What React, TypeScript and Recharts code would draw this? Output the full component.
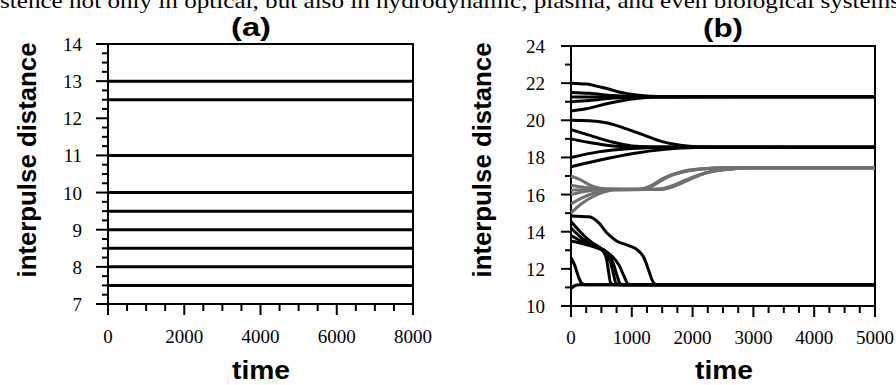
import { LineChart, Line, XAxis, YAxis, ReferenceArea } from 'recharts';

// panel (a): flat interpulse distances
const aLevels = [13, 12.5, 11, 10, 9.5, 9, 8.5, 8, 7.5];
const aTimes = [0, 8000];
const aYMajor = [7, 8, 9, 10, 11, 12, 13, 14];
const aXMajor = [0, 2000, 4000, 6000, 8000];

// panel (b): [time, distance] per trajectory
const topGroup = [
  [[0, 22], [250, 21.95], [500, 21.78], [900, 21.45], [1300, 21.3], [1800, 21.27], [5000, 21.27]],
  [[0, 21.5], [300, 21.45], [700, 21.33], [1100, 21.28], [5000, 21.27]],
  [[0, 21.25], [5000, 21.27]],
  [[0, 21.0], [300, 21.06], [700, 21.2], [1100, 21.26], [5000, 21.27]],
  [[0, 20.5], [250, 20.62], [600, 20.9], [1000, 21.15], [1400, 21.25], [1800, 21.27], [5000, 21.27]],
];
const midGroup = [
  [[0, 20], [300, 19.98], [600, 19.85], [900, 19.55], [1200, 19.2], [1500, 18.85], [1800, 18.65], [2100, 18.57], [2500, 18.55], [5000, 18.55]],
  [[0, 19.5], [300, 19.2], [650, 18.85], [1000, 18.62], [1400, 18.56], [5000, 18.55]],
  [[0, 19.0], [300, 18.8], [750, 18.6], [1100, 18.56], [5000, 18.55]],
  [[0, 18.0], [450, 18.3], [1000, 18.48], [1500, 18.54], [5000, 18.55]],
  [[0, 17.5], [480, 17.86], [1000, 18.2], [1550, 18.44], [2050, 18.54], [2500, 18.55], [5000, 18.55]],
];
const grayGroup = [
  [[0, 17.0], [150, 16.8], [350, 16.45], [600, 16.3], [1100, 16.28], [1300, 16.45], [1500, 16.85], [1800, 17.22], [2100, 17.38], [2600, 17.44], [5000, 17.45]],
  [[0, 16.5], [300, 16.35], [600, 16.28], [1150, 16.28], [1350, 16.5], [1600, 16.95], [1900, 17.25], [2300, 17.4], [2800, 17.45], [5000, 17.45]],
  [[0, 16.25], [1500, 16.28], [1700, 16.45], [1950, 16.8], [2200, 17.15], [2550, 17.35], [3000, 17.44], [5000, 17.45]],
  [[0, 16.0], [300, 16.2], [600, 16.28], [1450, 16.28], [1700, 16.5], [1950, 16.85], [2250, 17.2], [2600, 17.37], [3000, 17.44], [5000, 17.45]],
  [[0, 15.5], [200, 15.85], [450, 16.15], [700, 16.27], [1150, 16.28], [1350, 16.5], [1550, 16.9], [1850, 17.25], [2150, 17.38], [2600, 17.44], [5000, 17.45]],
  [[0, 15.0], [150, 15.45], [400, 15.95], [700, 16.25], [1400, 16.28], [1650, 16.45], [1900, 16.8], [2200, 17.15], [2550, 17.35], [3000, 17.44], [5000, 17.45]],
];
const lowGroup = [
  [[0, 14.85], [300, 14.8], [450, 14.5], [600, 13.9], [750, 13.5], [950, 13.25], [1100, 13.0], [1200, 12.6], [1280, 11.9], [1340, 11.35], [1400, 11.15], [5000, 11.15]],
  [[0, 14.55], [150, 14.0], [350, 13.4], [500, 13.05], [580, 12.6], [620, 11.8], [650, 11.25], [700, 11.15], [5000, 11.15]],
  [[0, 14.2], [200, 13.6], [400, 13.25], [560, 12.9], [650, 12.35], [700, 11.7], [740, 11.22], [790, 11.15], [5000, 11.15]],
  [[0, 13.8], [200, 13.45], [420, 13.2], [600, 12.85], [700, 12.25], [760, 11.6], [810, 11.2], [860, 11.15], [5000, 11.15]],
  [[0, 13.5], [200, 13.35], [450, 13.1], [650, 12.75], [790, 12.2], [880, 11.55], [940, 11.18], [1000, 11.15], [5000, 11.15]],
  [[0, 12.6], [60, 12.2], [120, 11.6], [170, 11.25], [230, 11.15], [5000, 11.15]],
  [[0, 10.95], [80, 11.12], [150, 11.15], [5000, 11.15]],
];
const bYMajor = [10, 12, 14, 16, 18, 20, 22, 24];
const bXMajor = [0, 1000, 2000, 3000, 4000, 5000];

const serif = 'Liberation Serif, Times New Roman, serif';
const sans = 'Liberation Sans, Arial, sans-serif';

// minor ticks between the majors
const withMinor = (majors: number[], parts: number) => {
  const out: number[] = [];
  for (let i = 0; i < majors.length - 1; i++) {
    const step = (majors[i + 1] - majors[i]) / parts;
    for (let k = 0; k < parts; k++) out.push(majors[i] + k * step);
  }
  out.push(majors[majors.length - 1]);
  return out;
};

const makeYTick = (majors: number[], majorLen: number, minorLen: number) => (props: any) => {
  const { x, y, payload } = props;
  const major = majors.includes(payload.value);
  return (
    <g>
      <line x1={x - (major ? majorLen : minorLen)} x2={x} y1={y} y2={y} stroke="#000" strokeWidth={2} />
      {major && (
        <text x={x - 26} y={y + 7} textAnchor="end" fontFamily={serif} fontSize={19} fill="#000">
          {payload.value}
        </text>
      )}
    </g>
  );
};

const makeXTick = (majors: number[], labelDy: number) => (props: any) => {
  const { x, y, payload } = props;
  const major = majors.includes(payload.value);
  return (
    <g>
      <line x1={x} x2={x} y1={y} y2={y + (major ? 11 : 7)} stroke="#000" strokeWidth={2} />
      {major && (
        <text x={x} y={y + labelDy} textAnchor="middle" fontFamily={serif} fontSize={19} fill="#000">
          {payload.value}
        </text>
      )}
    </g>
  );
};

const toPoints = (s: number[][]) => s.map(([t, v]) => ({ t, v }));

const aData = aTimes.map((t) => {
  const row: Record<string, number> = { t };
  aLevels.forEach((v, i) => (row['l' + i] = v));
  return row;
});

const PanelA = () => (
  <LineChart width={450} height={385} data={aData} margin={{ top: 44, right: 37, bottom: 80, left: 107 }}>
    <XAxis
      dataKey="t"
      type="number"
      domain={[0, 8000]}
      ticks={withMinor(aXMajor, 4)}
      interval={0}
      height={1}
      tickSize={0}
      tickMargin={0}
      tickLine={false}
      axisLine={false}
      tick={makeXTick(aXMajor, 39)}
    />
    <YAxis
      type="number"
      domain={[7, 14]}
      ticks={withMinor(aYMajor, 4)}
      interval={0}
      width={1}
      tickSize={0}
      tickMargin={0}
      tickLine={false}
      axisLine={false}
      tick={makeYTick(aYMajor, 12, 6)}
    />
    <ReferenceArea x1={0} x2={8000} y1={7} y2={14} fill="none" stroke="#000" strokeWidth={2} />
    {aLevels.map((_, i) => (
      <Line key={i} dataKey={'l' + i} stroke="#000" strokeWidth={3} dot={false} isAnimationActive={false} />
    ))}
  </LineChart>
);

const PanelB = () => (
  <LineChart width={446} height={385} margin={{ top: 46, right: 21, bottom: 78, left: 120 }}>
    <XAxis
      dataKey="t"
      type="number"
      domain={[0, 5000]}
      ticks={withMinor(bXMajor, 4)}
      interval={0}
      height={1}
      tickSize={0}
      tickMargin={0}
      tickLine={false}
      axisLine={false}
      allowDuplicatedCategory={false}
      tick={makeXTick(bXMajor, 38)}
    />
    <YAxis
      type="number"
      domain={[10, 24]}
      ticks={withMinor(bYMajor, 2)}
      interval={0}
      width={1}
      tickSize={0}
      tickMargin={0}
      tickLine={false}
      axisLine={false}
      tick={makeYTick(bYMajor, 10, 6)}
    />
    <ReferenceArea x1={0} x2={5000} y1={10} y2={24} fill="none" stroke="#000" strokeWidth={2} />
    {grayGroup.map((s, i) => (
      <Line key={'g' + i} data={toPoints(s)} dataKey="v" type="monotone" stroke="#707070" strokeWidth={3} dot={false} isAnimationActive={false} />
    ))}
    {[...topGroup, ...midGroup, ...lowGroup].map((s, i) => (
      <Line key={'k' + i} data={toPoints(s)} dataKey="v" type="monotone" stroke="#000" strokeWidth={3} dot={false} isAnimationActive={false} />
    ))}
  </LineChart>
);

export default function App() {
  return (
    <div style={{ position: 'absolute', left: 0, top: 0, width: 896, height: 385, background: '#fff', overflow: 'hidden' }}>
      <div style={{ position: 'absolute', left: 0, top: 0 }}>
        <PanelA />
      </div>
      <div style={{ position: 'absolute', left: 450, top: 0 }}>
        <PanelB />
      </div>
      <svg width={896} height={385} style={{ position: 'absolute', left: 0, top: 0, pointerEvents: 'none' }}>
        <text x={0} y={8} fontFamily={serif} fontSize={22} textLength={900} lengthAdjust="spacingAndGlyphs">
          stence not only in optical, but also in hydrodynamic, plasma, and even biological systems
        </text>
        <text x={251} y={36} textAnchor="middle" fontFamily={sans} fontWeight="bold" fontSize={25} textLength={40} lengthAdjust="spacingAndGlyphs">
          (a)
        </text>
        <text x={723} y={37} textAnchor="middle" fontFamily={sans} fontWeight="bold" fontSize={25} textLength={40} lengthAdjust="spacingAndGlyphs">
          (b)
        </text>
        <text transform="translate(36,160) rotate(-90)" textAnchor="middle" fontFamily={sans} fontWeight="bold" fontSize={26} textLength={235} lengthAdjust="spacingAndGlyphs">
          interpulse distance
        </text>
        <text transform="translate(491,160) rotate(-90)" textAnchor="middle" fontFamily={sans} fontWeight="bold" fontSize={26} textLength={235} lengthAdjust="spacingAndGlyphs">
          interpulse distance
        </text>
        <text x={261} y={379} textAnchor="middle" fontFamily={sans} fontWeight="bold" fontSize={26} textLength={58} lengthAdjust="spacingAndGlyphs">
          time
        </text>
        <text x={724} y={379} textAnchor="middle" fontFamily={sans} fontWeight="bold" fontSize={26} textLength={58} lengthAdjust="spacingAndGlyphs">
          time
        </text>
      </svg>
    </div>
  );
}
